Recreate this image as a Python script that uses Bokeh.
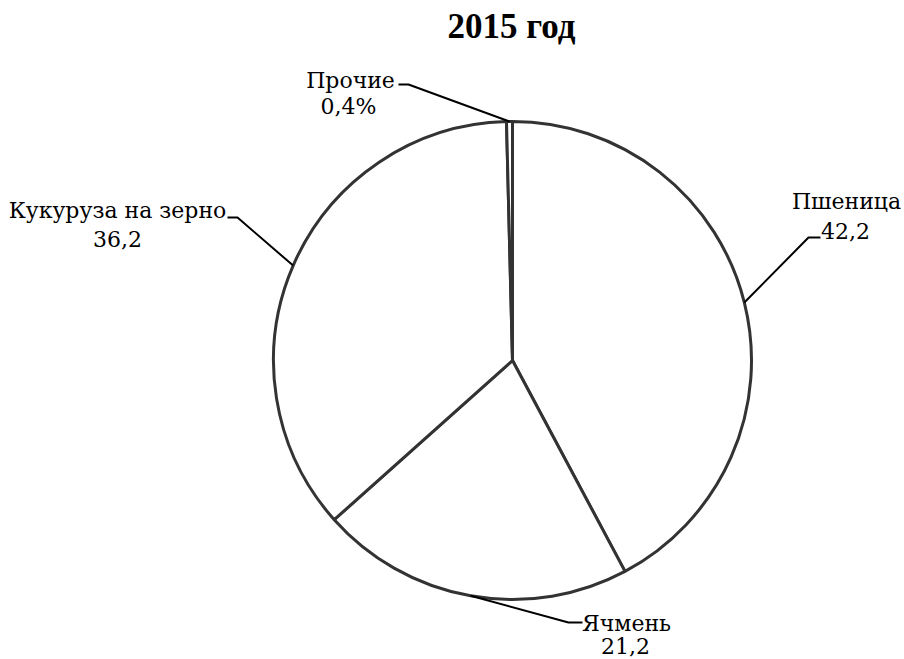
import math
from bokeh.plotting import figure
from bokeh.models import Range1d, ColumnDataSource
from bokeh.core.properties import value
from bokeh.embed import file_html
from bokeh.resources import INLINE

# ---- data ----
title_text = "2015 год"
categories = ["Пшеница", "Ячмень", "Кукуруза на зерно", "Прочие"]
shares = [42.2, 21.2, 36.2, 0.4]
value_labels = ["42,2", "21,2", "36,2", "0,4%"]

# ---- layout (page pixel coordinates, y measured from top) ----
W, H = 904, 659
cx_px, cy_px, R = 512, 360, 239
label_x = [846, 626, 117, 350]
name_base = [208, 630, 217, 87]
value_x = [845, 625, 117, 348]
value_base = [238, 653, 246, 113]
elbow = [(808, 237), (568, 622), (237, 217), (408, 84)]
tail = [(820, 237), (582, 622), (227, 217), (398, 84)]
LBL = 22
TTL = 35

def Y(py):
    return H - py

p = figure(width=W, height=H, output_backend="svg", toolbar_location=None,
           x_range=Range1d(0, W), y_range=Range1d(0, H),
           min_border=0, outline_line_color=None)
p.axis.visible = False
p.grid.visible = False
p.background_fill_color = "white"

total = sum(shares)
starts, ends, mids = [], [], []
a = math.pi / 2
for s in shares:
    sweep = 2 * math.pi * s / total
    starts.append(a - sweep)
    ends.append(a)
    mids.append(a - sweep / 2)
    a -= sweep

src = ColumnDataSource(dict(x=[cx_px] * len(shares), y=[Y(cy_px)] * len(shares),
                            start=starts, end=ends, cat=categories))
p.wedge(x="x", y="y", radius=R, start_angle="start", end_angle="end", source=src,
        fill_color="white", line_color="#333333", line_width=3)

for m, e, t in zip(mids, elbow, tail):
    sx = cx_px + R * math.cos(m)
    sy = Y(cy_px) + R * math.sin(m)
    p.line([sx, e[0], t[0]], [sy, Y(e[1]), Y(t[1])], line_color="black", line_width=2)

lf = value("DejaVu Serif")
p.text(x=label_x, y=[Y(v - 0.33 * LBL) for v in name_base], text=categories,
       text_font=lf, text_font_size=f"{LBL}px", text_align="center",
       text_baseline="alphabetic", text_color="black")
p.text(x=value_x, y=[Y(v - 0.33 * LBL) for v in value_base], text=value_labels,
       text_font=lf, text_font_size=f"{LBL}px", text_align="center",
       text_baseline="alphabetic", text_color="black")

p.text(x=[511], y=[Y(38 - 0.33 * TTL)], text=[title_text], text_font=value("Liberation Serif"),
       text_font_size=f"{TTL}px", text_font_style="bold", text_align="center",
       text_baseline="alphabetic", text_color="black")

open("out.html", "w").write(file_html(p, INLINE))
